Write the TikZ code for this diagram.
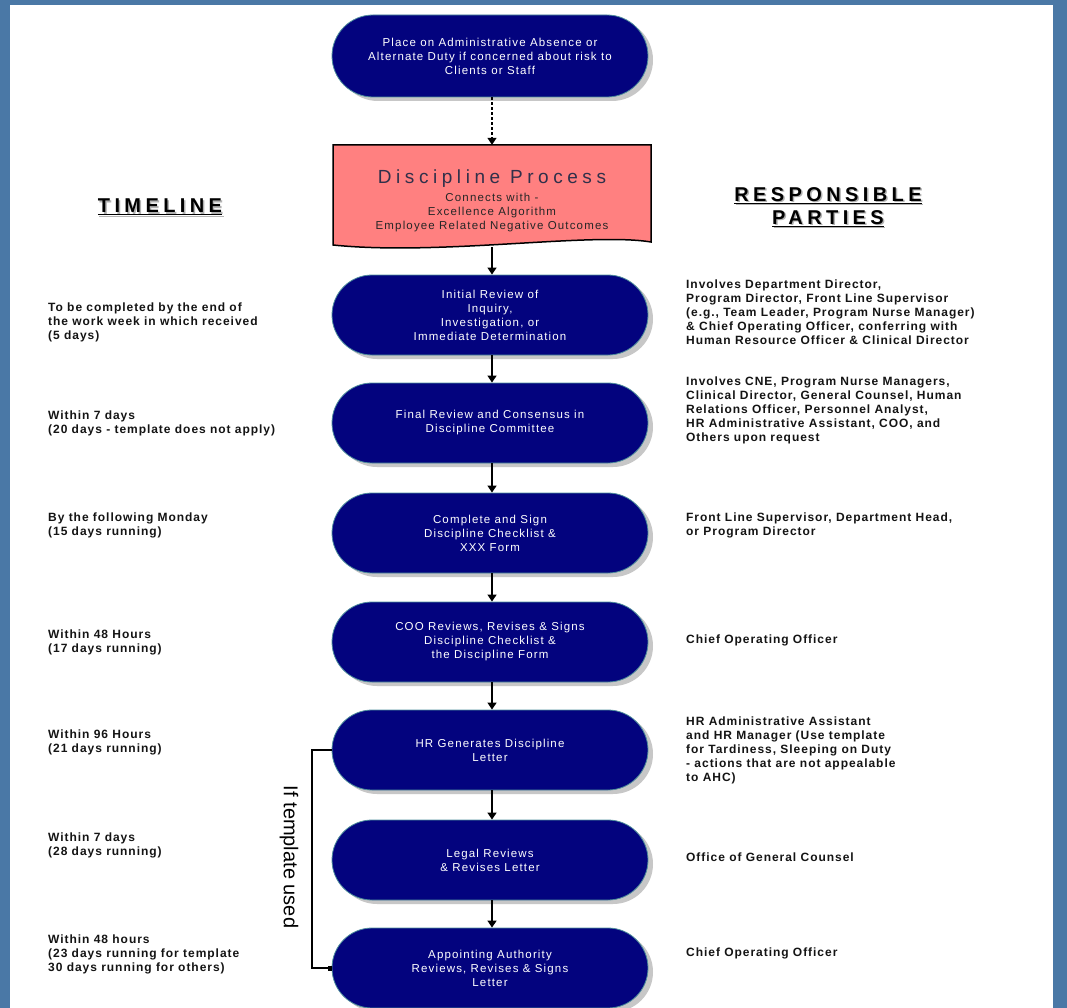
\documentclass[tikz,border=0pt]{standalone}
\usepackage{fontspec}
\setmainfont{Liberation Sans}
\usetikzlibrary{shapes.misc,shadows,arrows.meta,calc}

\definecolor{frameblue}{HTML}{4A78A6}
\definecolor{navy}{HTML}{03037E}
\definecolor{rim}{HTML}{4E8E9C}
\definecolor{pinkbox}{HTML}{FF8080}
\definecolor{titleink}{HTML}{30304A}

\newcommand\capfont{\fontsize{11.5}{14}\selectfont\addfontfeature{LetterSpace=10}}
\newcommand\sidefont{\fontsize{12}{14}\selectfont\bfseries\addfontfeature{LetterSpace=8}}
\newcommand\headfont{\fontsize{20}{23}\selectfont\bfseries\addfontfeature{LetterSpace=22}}

\tikzset{
  capsule/.style={rounded rectangle, fill=navy, draw=rim, line width=0.8pt,
    minimum width=316pt, minimum height=80pt, inner sep=0pt,
    text=white, align=center, font=\capfont,
    drop shadow={shadow xshift=5pt, shadow yshift=-4pt, fill=black!22, opacity=1}},
  side/.style={anchor=north west, align=left, inner sep=0pt, font=\sidefont, text=black!92},
  flow/.style={line width=1.4pt, -{Triangle[length=7pt,width=9pt]}},
  header/.style={align=center, inner sep=0pt, font=\headfont},
}

\begin{document}
\begin{tikzpicture}[x=1pt,y=-1pt]
  \useasboundingbox (0,0) rectangle (1067,1008);
  % page on a blue frame
  \fill[frameblue] (0,0) rectangle (1067,1008);
  \fill[white] (10,5) rectangle (1053,1008);

  % column headers
  \node[header, text=black!30] at (161.5,208.5) {\underline{TIMELINE}};
  \node[header] (hTime) at (160,207) {\underline{TIMELINE}};
  \node[header, text=black!30] at (829.5,208.5) {\underline{RESPONSIBLE}\\\underline{PARTIES}};
  \node[header] (hResp) at (828,207) {\underline{RESPONSIBLE}\\\underline{PARTIES}};

  % opening step
  \node[capsule, minimum height=82pt] (o1) at (490,56)
    {Place on Administrative Absence or\\Alternate Duty if concerned about risk to\\Clients or Staff};

  % discipline process banner with wavy lower edge
  \draw[line width=1.5pt, fill=pinkbox]
    (333,145) -- (651,145) -- (651,242)
    .. controls (590,232) and (440,256) .. (333,245) -- cycle;
  \node[minimum width=318pt, minimum height=100pt, inner sep=0pt] (dp) at (492,195) {};
  \node[font=\fontsize{19}{22}\selectfont\addfontfeature{LetterSpace=24}, text=titleink, inner sep=0pt]
    (dpTitle) at (492,179) {Discipline Process};
  \node[font=\capfont, text=black!85, align=center, inner sep=0pt] (dpSub) at (492,213)
    {Connects with -\\Excellence Algorithm\\Employee Related Negative Outcomes};

  % main sequence
  \node[capsule] (o2) at (490,315) {Initial Review of\\Inquiry,\\Investigation, or\\Immediate Determination};
  \node[capsule] (o3) at (490,423) {Final Review and Consensus in\\Discipline Committee};
  \node[capsule] (o4) at (490,533) {Complete and Sign\\Discipline Checklist \&\\XXX Form};
  \node[capsule] (o5) at (490,642) {COO Reviews, Revises \& Signs\\Discipline Checklist \&\\the Discipline Form};
  \node[capsule] (o6) at (490,750) {HR Generates Discipline\\Letter};
  \node[capsule] (o7) at (490,860) {Legal Reviews\\\& Revises Letter};
  \node[capsule] (o8) at (490,968) {Appointing Authority\\Reviews, Revises \& Signs\\Letter};

  % connectors
  \coordinate (dpOut) at ($(dp.south)+(0,2)$);
  \draw[flow, dash pattern=on 3pt off 2pt] (o1.south -| dp.north) -- (dp.north);
  \draw[flow] (dpOut) -- (o2.north -| dpOut);
  \draw[flow] (o2.south -| dpOut) -- (o3.north -| dpOut);
  \draw[flow] (o3.south -| dpOut) -- (o4.north -| dpOut);
  \draw[flow] (o4.south -| dpOut) -- (o5.north -| dpOut);
  \draw[flow] (o5.south -| dpOut) -- (o6.north -| dpOut);
  \draw[flow] (o6.south -| dpOut) -- (o7.north -| dpOut);
  \draw[flow] (o7.south -| dpOut) -- (o8.north -| dpOut);

  % template shortcut
  \coordinate (bk) at (312,860);
  \draw[line width=1.3pt, -{Square[length=4pt,width=5pt]}] (o6.west) -| (bk) |- (o8.west);
  \node[rotate=-90, font=\fontsize{20}{24}\selectfont, inner sep=0pt] (tmpl) at (289,857) {If template used};

  % timeline column
  \node[side] (t1) at (48,303) {To be completed by the end of\\the work week in which received\\(5 days)};
  \node[side] (t2) at (48,411) {Within 7 days\\(20 days - template does not apply)};
  \node[side] (t3) at (48,513) {By the following Monday\\(15 days running)};
  \node[side] (t4) at (48,630) {Within 48 Hours\\(17 days running)};
  \node[side] (t5) at (48,730) {Within 96 Hours\\(21 days running)};
  \node[side] (t6) at (48,833) {Within 7 days\\(28 days running)};
  \node[side] (t7) at (48,935) {Within 48 hours\\(23 days running for template\\30 days running for others)};

  % responsible parties column
  \node[side] (r1) at (686,280) {Involves Department Director,\\Program Director, Front Line Supervisor\\(e.g., Team Leader, Program Nurse Manager)\\\& Chief Operating Officer, conferring with\\Human Resource Officer \& Clinical Director};
  \node[side] (r2) at (686,377) {Involves CNE, Program Nurse Managers,\\Clinical Director, General Counsel, Human\\Relations Officer, Personnel Analyst,\\HR Administrative Assistant, COO, and\\Others upon request};
  \node[side] (r3) at (686,513) {Front Line Supervisor, Department Head,\\or Program Director};
  \node[side] (r4) at (686,635) {Chief Operating Officer};
  \node[side] (r5) at (686,717) {HR Administrative Assistant\\and HR Manager (Use template\\for Tardiness, Sleeping on Duty\\ - actions that are not appealable\\to AHC)};
  \node[side] (r6) at (686,853) {Office of General Counsel};
  \node[side] (r7) at (686,948) {Chief Operating Officer};
\end{tikzpicture}
\end{document}
